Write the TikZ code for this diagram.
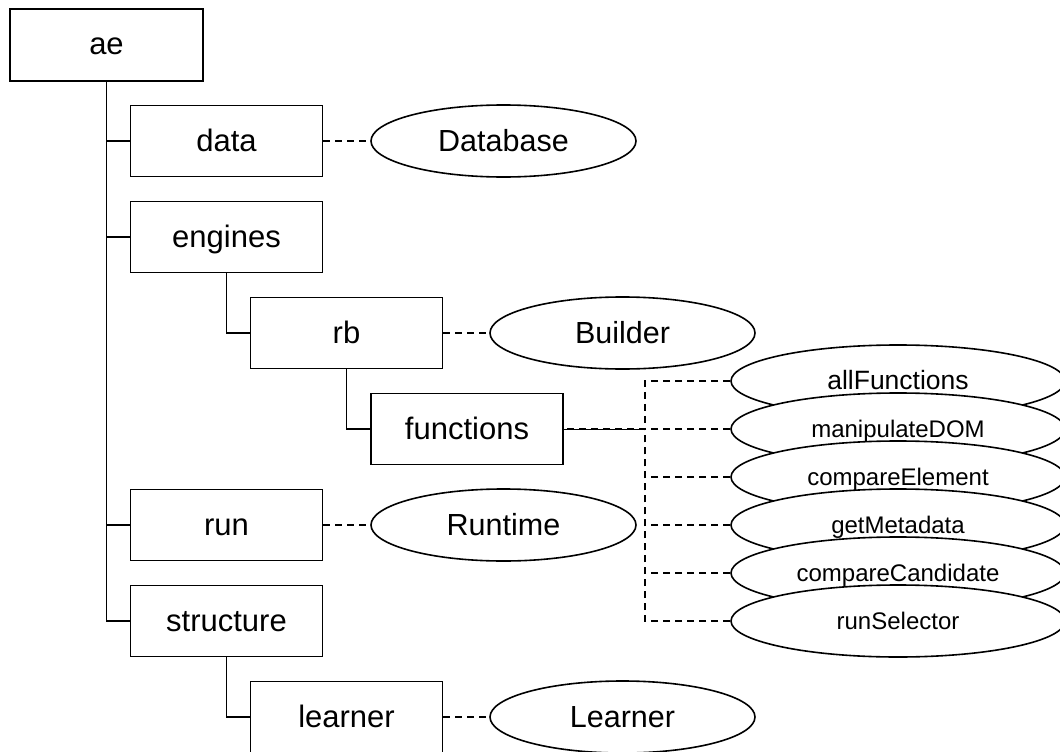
\documentclass[tikz,border=0pt]{standalone}
\usepackage{fontspec}
\setmainfont{Liberation Sans}
\usetikzlibrary{shapes.geometric}
\tikzset{
  box/.style={draw, line width=1.6pt, minimum width=192pt, minimum height=71pt,
    inner sep=0pt, text height=22pt, text depth=2pt,
    font=\fontsize{31}{37}\selectfont},
  oval/.style={draw, ellipse, fill=white, line width=1.6pt, minimum width=265pt,
    minimum height=72pt, inner sep=0pt, text height=22pt, text depth=2pt,
    font=\fontsize{30.5}{36}\selectfont},
  fn/.style={oval, minimum width=334pt, text height=18pt, text depth=2pt,
    font=\fontsize{24}{28}\selectfont},
  fnbig/.style={fn, font=\fontsize{26.5}{31}\selectfont},
  tree/.style={line width=1.6pt},
  link/.style={line width=1.4pt, dash pattern=on 7pt off 5pt},
}
\begin{document}
\begin{tikzpicture}[x=1pt,y=-1pt]
\useasboundingbox (0,0) rectangle (1060,752);
\clip (0,0) rectangle (1060,752);

% package tree
\node[box, minimum width=193pt, minimum height=72pt] (ae) at (106.5,45) {ae};
\node[box] (data)      at (226.5,141) {data};
\node[box] (engines)   at (226.5,237) {engines};
\node[box] (rb)        at (346.5,333) {rb};
\node[box] (functions) at (467,429)   {functions};
\node[box] (run)       at (226.5,525) {run};
\node[box] (structure) at (226.5,621) {structure};
\node[box] (learner)   at (346.5,717) {learner};

% components
\node[oval] (Database) at (503.5,141) {Database};
\node[oval] (Builder)  at (622.5,333) {Builder};
\node[oval] (Runtime)  at (503.5,525) {Runtime};
\node[oval] (Learner)  at (622.5,717) {Learner};

% function list
\node[fnbig] (allFunctions)     at (898,381) {allFunctions};
\node[fn]    (manipulateDOM)    at (898,429) {manipulateDOM};
\node[fn]    (compareElement)   at (898,477) {compareElement};
\node[fn]    (getMetadata)      at (898,525) {getMetadata};
\node[fn]    (compareCandidate) at (898,573) {compareCandidate};
\node[fn]    (runSelector)      at (898,621) {runSelector};

% tree edges
\draw[tree] (ae.south) |- (structure.west);
\draw[tree] (ae.south |- data.west) -- (data.west);
\draw[tree] (ae.south |- engines.west) -- (engines.west);
\draw[tree] (ae.south |- run.west) -- (run.west);
\draw[tree] (engines.south) |- (rb.west);
\draw[tree] (rb.south) |- (functions.west);
\draw[tree] (structure.south) |- (learner.west);

% links to components
\draw[link] (data.east) -- (Database.west);
\draw[link] (rb.east) -- (Builder.west);
\draw[link] (run.east) -- (Runtime.west);
\draw[link] (learner.east) -- (Learner.west);

% links to functions (the shared stub overlaps into a near-solid line)
\coordinate (bus) at (645,429);
\draw[line width=0.7pt] (functions.east) -- (bus);
\foreach \f in {allFunctions,manipulateDOM,compareElement,getMetadata,compareCandidate,runSelector}
  \draw[link] (\f.west) -- (bus |- \f.west) -- (bus) -- (functions.east);
\end{tikzpicture}
\end{document}
